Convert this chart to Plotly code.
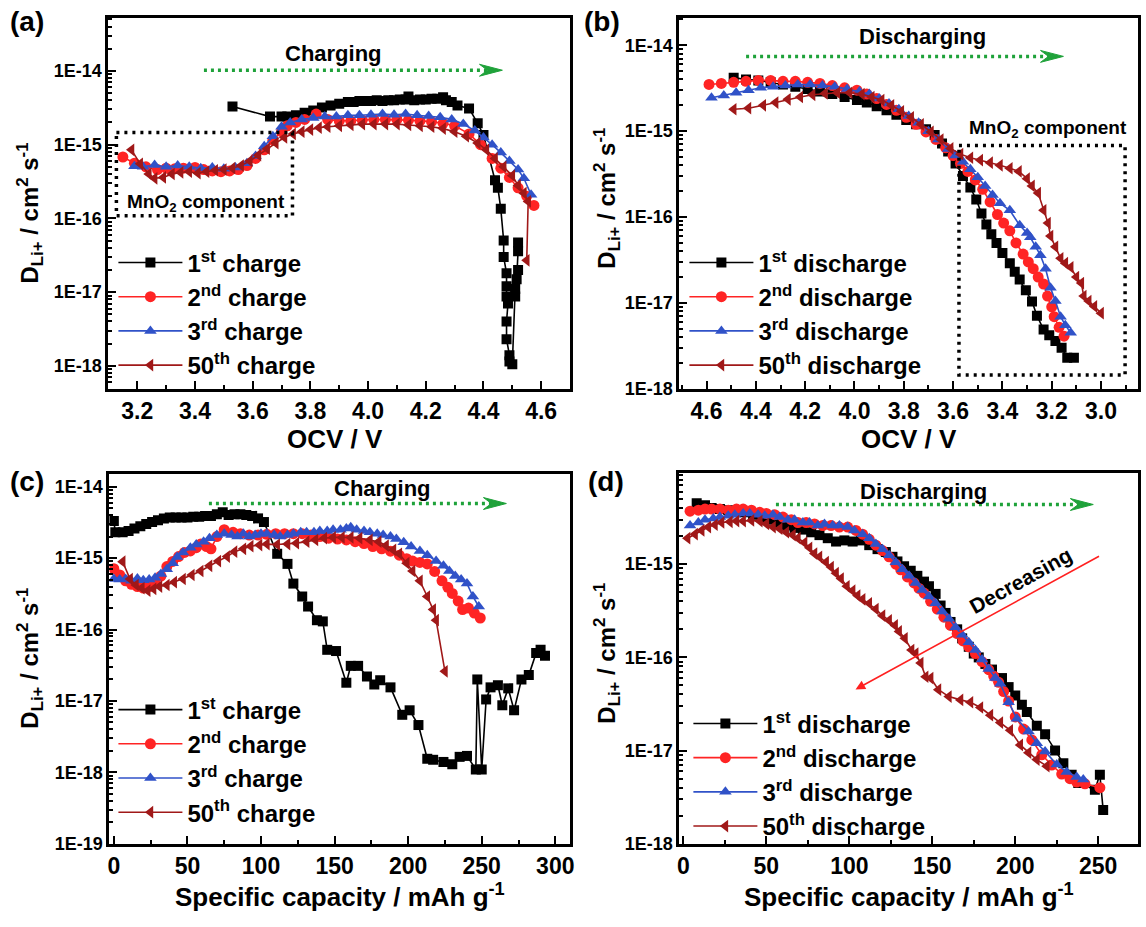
import plotly.graph_objects as go

# ---------------- data ----------------
# (a) D_Li+ vs OCV during charge
a1_v = [3.53, 3.66, 3.70, 3.72, 3.75, 3.78, 3.81, 3.84, 3.87, 3.90, 3.93, 3.95, 3.97, 3.99, 4.01, 4.03,
        4.05, 4.07, 4.09, 4.11, 4.13, 4.14, 4.16, 4.18, 4.20, 4.22, 4.24, 4.26, 4.27, 4.29, 4.31, 4.35,
        4.38, 4.40, 4.44, 4.45, 4.46, 4.47, 4.47, 4.48, 4.48, 4.48, 4.485, 4.48, 4.48, 4.49, 4.49, 4.50,
        4.51, 4.52, 4.51, 4.515, 4.52, 4.52]
a1_d = [3.3e-15, 2.4e-15, 2.4e-15, 2.4e-15, 2.5e-15, 2.7e-15, 2.9e-15, 3.2e-15, 3.4e-15, 3.6e-15, 3.8e-15,
        3.8e-15, 3.9e-15, 3.9e-15, 3.9e-15, 4.0e-15, 3.9e-15, 4.0e-15, 4.0e-15, 4.1e-15, 4.1e-15, 4.5e-15,
        4.0e-15, 4.1e-15, 4.1e-15, 4.2e-15, 4.2e-15, 4.4e-15, 4.0e-15, 3.8e-15, 3.4e-15, 3.1e-15, 1.95e-15,
        1.35e-15, 3.3e-16, 2.6e-16, 1.35e-16, 5.0e-17, 3.0e-17, 1.8e-17, 1.2e-17, 8.7e-18, 7.0e-18, 4.0e-18,
        2.3e-18, 1.4e-18, 1.15e-18, 1.05e-18, 1.1e-17, 2.0e-17, 8.7e-18, 1.5e-17, 3.6e-17, 4.7e-17]

a2_v = [3.15, 3.19, 3.23, 3.27, 3.30, 3.33, 3.36, 3.40, 3.43, 3.46, 3.49, 3.52, 3.55, 3.58, 3.61, 3.64,
        3.67, 3.70, 3.72, 3.75, 3.78, 3.82, 3.86, 3.90, 3.94, 3.98, 4.02, 4.06, 4.10, 4.14, 4.18, 4.22,
        4.26, 4.30, 4.35, 4.39, 4.43, 4.46, 4.49, 4.52, 4.55, 4.575]
a2_d = [6.8e-16, 5.6e-16, 5.0e-16, 4.6e-16, 4.8e-16, 4.7e-16, 4.8e-16, 4.9e-16, 4.6e-16, 4.4e-16, 4.3e-16,
        4.4e-16, 4.6e-16, 5.2e-16, 6.5e-16, 8.5e-16, 1.15e-15, 1.5e-15, 1.8e-15, 2.0e-15, 2.2e-15, 2.6e-15,
        2.2e-15, 2.1e-15, 2.1e-15, 2.15e-15, 2.2e-15, 2.2e-15, 2.2e-15, 2.15e-15, 2.1e-15, 2.05e-15, 1.95e-15,
        1.8e-15, 1.4e-15, 1.0e-15, 6.5e-16, 4.8e-16, 3.6e-16, 2.6e-16, 2.0e-16, 1.5e-16]

a3_v = [3.19, 3.22, 3.26, 3.30, 3.34, 3.38, 3.42, 3.46, 3.50, 3.54, 3.58, 3.61, 3.64, 3.67, 3.70, 3.73,
        3.77, 3.81, 3.85, 3.89, 3.93, 3.97, 4.01, 4.05, 4.09, 4.13, 4.17, 4.21, 4.25, 4.29, 4.33, 4.37,
        4.40, 4.43, 4.46, 4.49, 4.52, 4.54, 4.565]
a3_d = [5.1e-16, 5.0e-16, 5.3e-16, 5.0e-16, 5.2e-16, 5.0e-16, 4.8e-16, 4.9e-16, 4.7e-16, 4.9e-16, 5.6e-16,
        7.0e-16, 9.5e-16, 1.3e-15, 1.75e-15, 2.0e-15, 2.2e-15, 2.3e-15, 2.4e-15, 2.4e-15, 2.5e-15, 2.5e-15,
        2.55e-15, 2.6e-15, 2.55e-15, 2.6e-15, 2.5e-15, 2.45e-15, 2.35e-15, 2.2e-15, 1.9e-15, 1.55e-15,
        1.25e-15, 1.0e-15, 7.8e-16, 6.0e-16, 4.6e-16, 3.5e-16, 2.1e-16]

a50_v = [3.18, 3.21, 3.24, 3.26, 3.29, 3.32, 3.35, 3.38, 3.41, 3.44, 3.47, 3.50, 3.53, 3.56, 3.59, 3.62,
         3.65, 3.68, 3.71, 3.74, 3.77, 3.80, 3.83, 3.86, 3.90, 3.94, 3.98, 4.02, 4.06, 4.10, 4.14, 4.18,
         4.22, 4.26, 4.30, 4.34, 4.38, 4.41, 4.44, 4.47, 4.50, 4.52, 4.54, 4.555, 4.55]
a50_d = [8.5e-16, 5.5e-16, 4.0e-16, 3.5e-16, 3.6e-16, 4.0e-16, 4.2e-16, 4.3e-16, 4.1e-16, 4.3e-16, 4.5e-16,
         4.6e-16, 4.8e-16, 5.2e-16, 6.0e-16, 7.2e-16, 8.8e-16, 1.05e-15, 1.25e-15, 1.4e-15, 1.5e-15, 1.6e-15,
         1.7e-15, 1.75e-15, 1.8e-15, 1.85e-15, 1.9e-15, 1.9e-15, 1.9e-15, 1.9e-15, 1.85e-15, 1.8e-15,
         1.75e-15, 1.65e-15, 1.5e-15, 1.3e-15, 1.05e-15, 8.5e-16, 6.5e-16, 5.0e-16, 3.8e-16, 2.8e-16,
         2.2e-16, 1.7e-16, 2.7e-17]

# (b) D_Li+ vs OCV during discharge
b1_v = [4.49, 4.44, 4.39, 4.34, 4.29, 4.24, 4.19, 4.14, 4.09, 4.04, 3.99, 3.95, 3.91, 3.87, 3.83, 3.79,
        3.75, 3.71, 3.675, 3.645, 3.62, 3.59, 3.56, 3.53, 3.506, 3.485, 3.465, 3.445, 3.424, 3.40, 3.37,
        3.35, 3.33, 3.305, 3.28, 3.26, 3.233, 3.21, 3.185, 3.16, 3.137, 3.11]
b1_d = [4.2e-15, 4.0e-15, 3.9e-15, 3.7e-15, 3.5e-15, 3.3e-15, 3.1e-15, 2.9e-15, 2.7e-15, 2.5e-15, 2.3e-15,
        2.15e-15, 1.95e-15, 1.75e-15, 1.55e-15, 1.35e-15, 1.2e-15, 1.05e-15, 9.0e-16, 7.2e-16, 5.8e-16,
        4.2e-16, 3.0e-16, 2.2e-16, 1.6e-16, 1.1e-16, 8.2e-17, 6.3e-17, 5.0e-17, 3.8e-17, 2.9e-17, 2.3e-17,
        1.87e-17, 1.4e-17, 1.04e-17, 7.1e-18, 4.9e-18, 4.2e-18, 3.6e-18, 3.0e-18, 2.3e-18, 2.3e-18]

b2_v = [4.59, 4.54, 4.49, 4.44, 4.39, 4.34, 4.29, 4.24, 4.19, 4.14, 4.09, 4.04, 3.99, 3.95, 3.91, 3.87,
        3.83, 3.79, 3.75, 3.71, 3.67, 3.63, 3.60, 3.57, 3.54, 3.51, 3.48, 3.45, 3.42, 3.395, 3.37, 3.345,
        3.316, 3.295, 3.275, 3.255, 3.233, 3.217, 3.20, 3.19, 3.17, 3.15]
b2_d = [3.5e-15, 3.6e-15, 3.7e-15, 3.8e-15, 3.9e-15, 3.9e-15, 3.8e-15, 3.8e-15, 3.7e-15, 3.6e-15, 3.4e-15,
        3.2e-15, 3.0e-15, 2.7e-15, 2.4e-15, 2.05e-15, 1.75e-15, 1.45e-15, 1.2e-15, 9.8e-16, 8.0e-16, 6.4e-16,
        5.2e-16, 4.2e-16, 3.4e-16, 2.7e-16, 2.1e-16, 1.5e-16, 1.07e-16, 8.5e-17, 6.9e-17, 5.0e-17, 3.7e-17,
        3.0e-17, 2.5e-17, 2.0e-17, 1.66e-17, 1.2e-17, 9.0e-18, 6.9e-18, 5.2e-18, 4.1e-18]

b3_v = [4.58, 4.53, 4.48, 4.43, 4.38, 4.33, 4.28, 4.23, 4.18, 4.13, 4.08, 4.03, 3.98, 3.94, 3.90, 3.86,
        3.82, 3.78, 3.74, 3.70, 3.66, 3.62, 3.59, 3.56, 3.53, 3.50, 3.47, 3.44, 3.41, 3.37, 3.33, 3.30,
        3.287, 3.265, 3.246, 3.225, 3.205, 3.185, 3.164, 3.145, 3.123]
b3_d = [2.45e-15, 2.6e-15, 2.8e-15, 3.0e-15, 3.2e-15, 3.3e-15, 3.4e-15, 3.5e-15, 3.5e-15, 3.4e-15, 3.3e-15,
        3.1e-15, 2.9e-15, 2.7e-15, 2.4e-15, 2.1e-15, 1.8e-15, 1.5e-15, 1.25e-15, 1.0e-15, 8.0e-16, 6.2e-16,
        5.2e-16, 4.4e-16, 3.6e-16, 2.9e-16, 2.3e-16, 1.8e-16, 1.45e-16, 1.2e-16, 8.0e-17, 6.5e-17, 5.8e-17,
        4.5e-17, 3.6e-17, 2.5e-17, 1.5e-17, 1.05e-17, 6.9e-18, 5.5e-18, 4.5e-18]

b50_v = [4.49, 4.43, 4.37, 4.32, 4.27, 4.22, 4.17, 4.12, 4.07, 4.02, 3.97, 3.93, 3.89, 3.85, 3.81, 3.77,
         3.73, 3.69, 3.65, 3.61, 3.57, 3.53, 3.49, 3.45, 3.41, 3.37, 3.333, 3.30, 3.28, 3.255, 3.233, 3.215,
         3.205, 3.185, 3.164, 3.145, 3.123, 3.10, 3.08, 3.07, 3.05, 3.027, 3.0]
b50_d = [1.8e-15, 1.85e-15, 2.0e-15, 2.15e-15, 2.35e-15, 2.5e-15, 2.65e-15, 2.75e-15, 2.8e-15, 2.8e-15,
         2.7e-15, 2.5e-15, 2.3e-15, 2.0e-15, 1.7e-15, 1.45e-15, 1.2e-15, 9.8e-16, 8.0e-16, 6.3e-16, 5.4e-16,
         4.9e-16, 4.6e-16, 4.3e-16, 4.0e-16, 3.7e-16, 3.4e-16, 2.8e-16, 2.3e-16, 1.9e-16, 1.2e-16, 8.5e-17,
         6.0e-17, 4.5e-17, 3.3e-17, 2.9e-17, 2.6e-17, 2.0e-17, 1.7e-17, 1.2e-17, 1.05e-17, 9.1e-18, 7.6e-18]

# (c) D_Li+ vs specific capacity during charge
c1_q = [0, 1, 6, 10, 14, 18, 22, 26, 30, 34, 38, 42, 46, 50, 54, 58, 62, 66, 70, 74, 78, 82, 86, 90, 94,
        98, 102, 111, 118, 122, 128, 132, 138, 142, 145, 151, 158, 161, 166, 172, 177, 181, 188, 196, 201,
        207, 213, 217, 224, 230, 235, 240, 246, 247, 250, 253, 256, 261, 264, 268, 272, 277, 282, 287, 290,
        293]
c1_d = [3.3e-15, 2.3e-15, 2.3e-15, 2.4e-15, 2.6e-15, 2.8e-15, 3.0e-15, 3.2e-15, 3.4e-15, 3.6e-15, 3.7e-15,
        3.7e-15, 3.7e-15, 3.7e-15, 3.8e-15, 3.8e-15, 3.9e-15, 3.9e-15, 4.1e-15, 4.4e-15, 4.0e-15, 4.1e-15,
        4.1e-15, 4.0e-15, 3.9e-15, 3.6e-15, 3.2e-15, 1.15e-15, 8.3e-16, 4.4e-16, 2.9e-16, 2.1e-16, 1.35e-16,
        1.3e-16, 5.2e-17, 5.0e-17, 1.8e-17, 3.1e-17, 3.1e-17, 2.2e-17, 1.7e-17, 1.95e-17, 1.55e-17, 6.4e-18,
        7.4e-18, 4.6e-18, 1.55e-18, 1.5e-18, 1.4e-18, 1.3e-18, 1.65e-18, 1.7e-18, 1.1e-18, 2.0e-17, 1.1e-18,
        1.05e-17, 1.55e-17, 1.66e-17, 8.7e-18, 1.5e-17, 7.4e-18, 2.0e-17, 2.3e-17, 4.7e-17, 5.2e-17, 4.3e-17]

c2_q = [0, 4, 8, 12, 16, 20, 24, 28, 32, 36, 40, 44, 48, 52, 56, 59, 63, 66, 70, 75, 81, 86, 92, 98, 104,
        110, 116, 122, 128, 134, 140, 146, 152, 158, 164, 170, 176, 182, 188, 194, 199, 203, 208, 213, 218,
        223, 227, 230, 234, 237, 241, 245, 249]
c2_d = [7.1e-16, 5.8e-16, 4.8e-16, 4.3e-16, 4.0e-16, 3.8e-16, 4.0e-16, 4.6e-16, 5.6e-16, 7.6e-16, 9.0e-16,
        1.05e-15, 1.2e-15, 1.26e-15, 1.4e-15, 1.57e-15, 1.45e-15, 1.35e-15, 2.0e-15, 2.5e-15, 2.3e-15,
        2.2e-15, 2.1e-15, 2.1e-15, 2.15e-15, 2.2e-15, 2.2e-15, 2.2e-15, 2.2e-15, 2.1e-15, 2.0e-15, 1.9e-15,
        1.85e-15, 1.8e-15, 1.7e-15, 1.6e-15, 1.45e-15, 1.35e-15, 1.25e-15, 1.1e-15, 9.8e-16, 9.1e-16,
        8.7e-16, 8.3e-16, 6.5e-16, 4.8e-16, 3.9e-16, 3.2e-16, 2.5e-16, 1.9e-16, 2.0e-16, 1.7e-16, 1.45e-16]

c3_q = [0, 4, 8, 12, 16, 20, 24, 28, 32, 36, 40, 43, 47, 52, 56, 61, 65, 70, 75, 80, 84, 88, 92, 96, 100,
        104, 109, 113, 118, 122, 127, 131, 136, 140, 145, 149, 154, 158, 161, 165, 170, 174, 179, 183, 188,
        192, 197, 202, 208, 213, 219, 224, 228, 232, 236, 240, 244, 248]
c3_d = [5.1e-16, 5.0e-16, 5.1e-16, 4.8e-16, 5.2e-16, 4.9e-16, 5.0e-16, 5.3e-16, 6.0e-16, 7.0e-16, 8.5e-16,
        1.04e-15, 1.2e-15, 1.4e-15, 1.55e-15, 1.7e-15, 1.9e-15, 2.1e-15, 2.2e-15, 2.1e-15, 2.0e-15, 2.2e-15,
        2.0e-15, 2.1e-15, 2.2e-15, 2.2e-15, 2.1e-15, 2.0e-15, 2.1e-15, 2.2e-15, 2.3e-15, 2.3e-15, 2.3e-15,
        2.4e-15, 2.4e-15, 2.5e-15, 2.5e-15, 2.6e-15, 2.7e-15, 2.5e-15, 2.4e-15, 2.3e-15, 2.2e-15, 2.1e-15,
        2.0e-15, 1.85e-15, 1.67e-15, 1.45e-15, 1.26e-15, 1.1e-15, 9.1e-16, 7.8e-16, 6.6e-16, 5.6e-16,
        5.0e-16, 4.4e-16, 2.9e-16, 2.1e-16]

c50_q = [6, 11, 15, 19, 23, 27, 31, 36, 41, 47, 53, 59, 65, 71, 77, 82, 88, 93, 99, 104, 111, 118, 124,
         131, 137, 143, 149, 155, 161, 167, 174, 180, 185, 190, 194, 199, 203, 208, 213, 217, 219, 225]
c50_d = [8.9e-16, 5.1e-16, 4.2e-16, 3.8e-16, 3.5e-16, 3.7e-16, 4.0e-16, 4.2e-16, 4.6e-16, 5.1e-16, 5.8e-16,
         6.6e-16, 7.8e-16, 9.1e-16, 1.05e-15, 1.23e-15, 1.35e-15, 1.47e-15, 1.52e-15, 1.57e-15, 1.55e-15,
         1.57e-15, 1.62e-15, 1.7e-15, 1.8e-15, 1.9e-15, 1.95e-15, 1.95e-15, 1.95e-15, 1.9e-15, 1.8e-15,
         1.7e-15, 1.5e-15, 1.3e-15, 1.15e-15, 8.5e-16, 6.6e-16, 4.8e-16, 2.9e-16, 1.9e-16, 1.35e-16, 2.6e-17]

# (d) D_Li+ vs specific capacity during discharge
d1_q = [8, 13, 17, 22, 27, 32, 37, 42, 47, 52, 57, 62, 67, 72, 77, 82, 87, 92, 97, 102, 107, 112, 117,
        122, 126, 129, 133, 137, 141, 145, 148, 152, 155, 158, 161, 165, 168, 172, 175, 178, 182, 186, 192,
        196, 200, 204, 207, 213, 218, 224, 229, 234, 238, 248, 251, 253]
d1_d = [4.5e-15, 4.3e-15, 4.0e-15, 3.9e-15, 3.8e-15, 3.7e-15, 3.6e-15, 3.4e-15, 3.2e-15, 3.0e-15, 2.8e-15,
        2.6e-15, 2.45e-15, 2.35e-15, 2.2e-15, 2.05e-15, 1.9e-15, 1.75e-15, 1.8e-15, 1.75e-15, 1.8e-15,
        1.6e-15, 1.45e-15, 1.35e-15, 1.2e-15, 1.07e-15, 9.5e-16, 8.5e-16, 7.5e-16, 6.5e-16, 5.8e-16,
        4.8e-16, 3.6e-16, 3.0e-16, 2.4e-16, 2.0e-16, 1.6e-16, 1.3e-16, 1.1e-16, 1.0e-16, 8.5e-17, 7.4e-17,
        6.0e-17, 4.8e-17, 3.9e-17, 3.1e-17, 2.6e-17, 1.85e-17, 1.5e-17, 1.0e-17, 7.3e-18, 5.5e-18, 4.5e-18,
        3.8e-18, 5.5e-18, 2.3e-18]

d2_q = [4, 9, 13, 17, 22, 27, 32, 36, 41, 46, 50, 55, 60, 65, 69, 74, 79, 84, 89, 94, 99, 104, 108, 112,
        116, 120, 124, 128, 131, 135, 139, 142, 145, 149, 153, 157, 161, 165, 168.5, 172, 176, 180, 184,
        187, 190, 193, 196, 200, 205, 210, 216, 222, 228, 233, 237, 242, 251]
d2_d = [3.7e-15, 3.8e-15, 3.9e-15, 3.9e-15, 3.9e-15, 3.8e-15, 3.9e-15, 3.9e-15, 3.8e-15, 3.6e-15, 3.5e-15,
        3.4e-15, 3.2e-15, 3.0e-15, 2.8e-15, 2.8e-15, 2.7e-15, 2.6e-15, 2.6e-15, 2.5e-15, 2.5e-15, 2.3e-15,
        2.1e-15, 1.85e-15, 1.6e-15, 1.4e-15, 1.2e-15, 1.0e-15, 8.7e-16, 7.3e-16, 6.3e-16, 5.5e-16, 4.9e-16,
        4.0e-16, 3.3e-16, 2.7e-16, 2.2e-16, 1.8e-16, 1.5e-16, 1.3e-16, 1.1e-16, 9.0e-17, 7.4e-17, 6.3e-17,
        5.4e-17, 4.3e-17, 3.4e-17, 2.3e-17, 1.7e-17, 1.3e-17, 9.0e-18, 7.0e-18, 5.6e-18, 5.0e-18, 4.6e-18,
        4.4e-18, 4.0e-18]

d3_q = [4, 9, 13, 18, 22, 27, 31, 36, 40, 45, 49, 54, 58, 63, 67, 72, 76, 81, 85, 90, 94, 99, 103, 108,
        112, 116, 120, 124, 128, 132, 136, 140, 144, 148, 152, 156, 160, 164, 168, 172, 176, 180, 184, 188,
        191, 196, 201, 208, 213, 218, 225, 231, 237, 241]
d3_d = [2.6e-15, 2.8e-15, 3.0e-15, 3.1e-15, 3.2e-15, 3.3e-15, 3.4e-15, 3.5e-15, 3.5e-15, 3.4e-15, 3.3e-15,
        3.4e-15, 3.2e-15, 3.0e-15, 3.0e-15, 2.8e-15, 2.8e-15, 2.6e-15, 2.7e-15, 2.6e-15, 2.6e-15, 2.5e-15,
        2.3e-15, 2.1e-15, 1.9e-15, 1.65e-15, 1.45e-15, 1.25e-15, 1.05e-15, 8.8e-16, 7.5e-16, 6.3e-16,
        5.3e-16, 4.5e-16, 3.8e-16, 3.1e-16, 2.6e-16, 2.1e-16, 1.75e-16, 1.45e-16, 1.2e-16, 9.5e-17, 7.5e-17,
        6.0e-17, 5.2e-17, 3.3e-17, 2.2e-17, 1.6e-17, 1.2e-17, 9.8e-18, 7.1e-18, 5.9e-18, 5.2e-18, 4.9e-18]

d50_q = [2.5, 7, 11, 15, 19, 23, 28, 32, 36, 41, 46, 50, 54, 58, 62, 66, 69, 73, 76, 79, 82, 86, 89, 92,
         95, 98.5, 102, 105, 108, 112, 116, 120, 124, 127.6, 130, 133.5, 137.5, 140, 143, 146, 149, 153.7,
         160, 167, 173, 179, 185, 191, 197, 203, 208, 213, 219]
d50_d = [1.9e-15, 2.1e-15, 2.3e-15, 2.5e-15, 2.65e-15, 2.8e-15, 2.85e-15, 2.9e-15, 2.9e-15, 2.95e-15,
         2.9e-15, 2.7e-15, 2.5e-15, 2.4e-15, 2.2e-15, 2.05e-15, 1.9e-15, 1.7e-15, 1.5e-15, 1.3e-15, 1.2e-15,
         1.05e-15, 9.3e-16, 8.0e-16, 7.0e-16, 5.8e-16, 5.2e-16, 4.6e-16, 4.2e-16, 3.8e-16, 3.3e-16, 2.8e-16,
         2.5e-16, 2.2e-16, 1.9e-16, 1.6e-16, 1.2e-16, 1.1e-16, 8.7e-17, 6.2e-17, 6.0e-17, 4.5e-17, 3.8e-17,
         3.5e-17, 3.3e-17, 2.9e-17, 2.4e-17, 2.0e-17, 1.65e-17, 1.15e-17, 9.5e-18, 8.0e-18, 6.8e-18]

charge_names = ["1<sup>st</sup> charge", "2<sup>nd</sup> charge", "3<sup>rd</sup> charge", "50<sup>th</sup> charge"]
discharge_names = ["1<sup>st</sup> discharge", "2<sup>nd</sup> discharge", "3<sup>rd</sup> discharge",
                   "50<sup>th</sup> discharge"]
decade_labels = ["1E-19", "1E-18", "1E-17", "1E-16", "1E-15", "1E-14"]
decade_values = [1e-19, 1e-18, 1e-17, 1e-16, 1e-15, 1e-14]

# ---------------- styling ----------------
W, H = 1146, 927
FONT = "Liberation Sans, Arial, sans-serif"
COLORS = ["#000000", "#FF2424", "#3052C8", "#A01818"]
SYMBOLS = ["square", "circle", "triangle-up", "triangle-left"]
SIZES = [10, 11, 11, 11]
GREEN = "#1FA23A"


def px(x):
    return x / W


def py(y):
    return 1 - y / H


fig = go.Figure()

panels = [
    ("x", "y", "legend", charge_names, [(a1_v, a1_d), (a2_v, a2_d), (a3_v, a3_d), (a50_v, a50_d)]),
    ("x2", "y2", "legend2", discharge_names, [(b1_v, b1_d), (b2_v, b2_d), (b3_v, b3_d), (b50_v, b50_d)]),
    ("x3", "y3", "legend3", charge_names, [(c1_q, c1_d), (c2_q, c2_d), (c3_q, c3_d), (c50_q, c50_d)]),
    ("x4", "y4", "legend4", discharge_names, [(d1_q, d1_d), (d2_q, d2_d), (d3_q, d3_d), (d50_q, d50_d)]),
]

for xa, ya, leg, names, series in panels:
    for i, (xs, ys) in enumerate(series):
        fig.add_trace(go.Scatter(
            x=xs, y=ys, xaxis=xa, yaxis=ya, legend=leg, name=names[i],
            mode="lines+markers",
            line=dict(color=COLORS[i], width=1.6),
            marker=dict(symbol=SYMBOLS[i], size=SIZES[i], color=COLORS[i], line=dict(width=0)),
        ))

tickfont_x = dict(family=FONT, size=23, color="black", weight="bold")
tickfont_y = dict(family=FONT, size=18, color="black", weight="bold")


def x_axis(dom, rng, dtick, minor_dtick, fmt):
    return dict(domain=dom, range=rng, showline=True, mirror=True, linecolor="black", linewidth=3,
                ticks="inside", ticklen=8, tickwidth=2, tickcolor="black", dtick=dtick, tick0=0,
                tickformat=fmt, tickfont=tickfont_x, showgrid=False, zeroline=False,
                minor=dict(ticks="inside", ticklen=4, tickwidth=1.5, tickcolor="black",
                           dtick=minor_dtick, tick0=0, showgrid=False))


def y_axis(dom, rng, anchor):
    lo, hi = int(round(rng[0])) - 1, int(round(rng[1])) + 1
    minor_vals = [k * 10.0 ** e for e in range(lo, hi) for k in range(2, 10)]
    return dict(domain=dom, type="log", range=rng, anchor=anchor, showline=True, mirror=True,
                linecolor="black", linewidth=3, ticks="inside", ticklen=8, tickwidth=2, tickcolor="black",
                tickmode="array", tickvals=decade_values, ticktext=decade_labels, tickfont=tickfont_y,
                showgrid=False, zeroline=False,
                minor=dict(ticks="inside", ticklen=4, tickwidth=1.5, tickcolor="black",
                           tickmode="array", tickvals=minor_vals, showgrid=False))


fig.update_layout(
    width=W, height=H, margin=dict(l=0, r=0, t=0, b=0),
    paper_bgcolor="white", plot_bgcolor="white",
    font=dict(family=FONT, color="black"),
    xaxis=x_axis([px(107), px(571)], [3.1, 4.7], 0.2, 0.1, ".1f") | dict(anchor="y"),
    yaxis=y_axis([py(393), py(18)], [-18.31, -13.28], "x"),
    xaxis2=x_axis([px(681), px(1142)], [4.71, 2.85], 0.2, 0.1, ".1f") | dict(anchor="y2"),
    yaxis2=y_axis([py(393), py(18)], [-18.0, -13.68], "x2"),
    xaxis3=x_axis([px(108), px(571)], [-3, 310], 50, 25, "d") | dict(anchor="y3"),
    yaxis3=y_axis([py(853), py(479)], [-19.0, -13.82], "x3"),
    xaxis4=x_axis([px(681), px(1142)], [-2.4, 274], 50, 25, "d") | dict(anchor="y4"),
    yaxis4=y_axis([py(853), py(478)], [-18.0, -14.02], "x4"),
)

legend_style = dict(font=dict(family=FONT, size=24, color="black", weight="bold"),
                    bgcolor="rgba(0,0,0,0)", borderwidth=0, xanchor="left", yanchor="top",
                    tracegroupgap=0, itemwidth=64)
fig.update_layout(
    legend=legend_style | dict(x=px(112), y=py(243)),
    legend2=legend_style | dict(x=px(686), y=py(243)),
    legend3=legend_style | dict(x=px(112), y=py(695)),
    legend4=legend_style | dict(x=px(690), y=py(709)),
)


def text(x, y, s, size, angle=0, xanchor="center"):
    fig.add_annotation(x=px(x), y=py(y), xref="paper", yref="paper", text=s, showarrow=False,
                       textangle=angle, xanchor=xanchor, yanchor="middle",
                       font=dict(family=FONT, size=size, color="black", weight="bold"))


# panel letters
for lbl, (x, y) in zip(["(a)", "(b)", "(c)", "(d)"], [(25, 22), (603, 22), (25, 487), (607, 487)]):
    text(x, y, lbl, 28)

# axis titles
ytitle = "D<sub>Li+</sub> / cm<sup>2</sup> s<sup>-1</sup>"
for x, y in [(28, 215), (608, 200), (28, 665), (608, 660)]:
    text(x, y, ytitle, 24, angle=-90)
text(335, 444, "OCV / V", 26)
text(912, 444, "OCV / V", 26)
text(340, 905, "Specific capacity / mAh g<sup>-1</sup>", 26)
text(912, 905, "Specific capacity / mAh g<sup>-1</sup>", 26)

# direction arrows
text(333, 54, "Charging", 22)
text(925, 37, "Discharging", 22)
text(382, 494, "Charging", 22)
text(926, 497, "Discharging", 22)


def green_arrow(x0, x1, y):
    fig.add_shape(type="line", xref="paper", yref="paper", x0=px(x0), x1=px(x1 - 14), y0=py(y), y1=py(y),
                  line=dict(color=GREEN, width=3.5, dash="3px,4px"))
    pts = [(x1 - 23, y - 6), (x1, y), (x1 - 23, y + 6), (x1 - 15, y)]
    path = "M" + " L".join(f"{px(a):.5f},{py(b):.5f}" for a, b in pts) + " Z"
    fig.add_shape(type="path", xref="paper", yref="paper", path=path,
                  fillcolor=GREEN, line=dict(color=GREEN, width=1))


green_arrow(203, 503, 71)
green_arrow(748, 1067, 57)
green_arrow(208, 507, 509)
green_arrow(778, 1097, 510)

# MnO2 regions
for x0, x1, y0, y1 in [(115, 292, 134, 218), (962, 1129, 147, 379)]:
    fig.add_shape(type="rect", xref="paper", yref="paper", x0=px(x0), x1=px(x1), y0=py(y0), y1=py(y1),
                  line=dict(color="black", width=3.5, dash="3px,5px"), fillcolor="rgba(0,0,0,0)")
text(205, 205, "MnO<sub>2</sub> component", 19)
text(1052, 130, "MnO<sub>2</sub> component", 19)

# decreasing trend arrow in (d)
fig.add_annotation(x=px(858), y=py(697), xref="paper", yref="paper",
                   ax=1103 - 858, ay=563 - 697, axref="pixel", ayref="pixel",
                   text="", showarrow=True, arrowhead=2, arrowsize=1.2,
                   arrowwidth=1.6, arrowcolor="#FF2020")
text(1024, 587, "Decreasing", 21, angle=-29)

fig.write_html("out.html")
